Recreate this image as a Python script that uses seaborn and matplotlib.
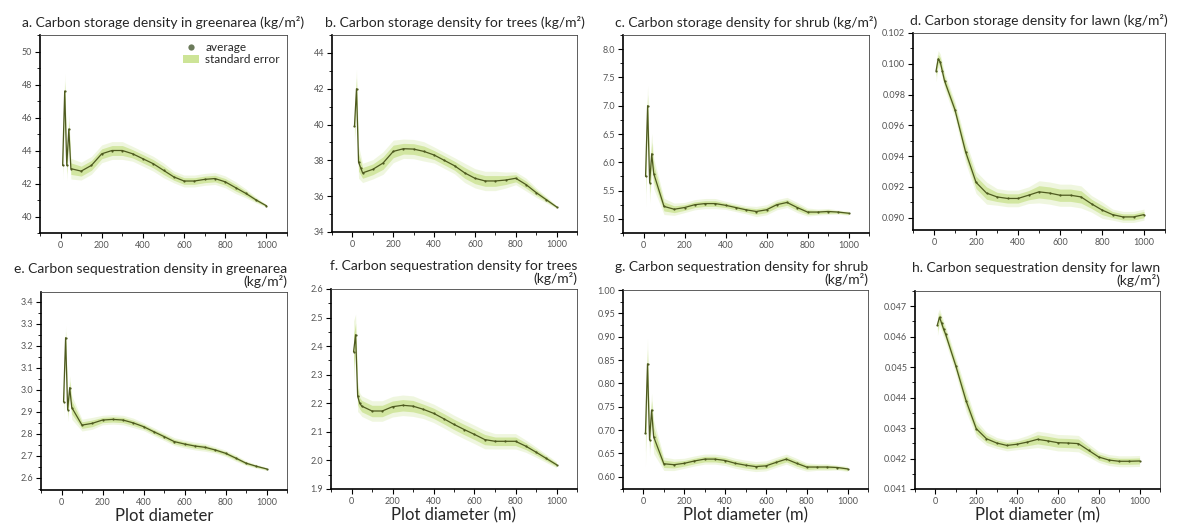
import matplotlib
matplotlib.use("Agg")
import matplotlib.pyplot as plt
import seaborn as sns
import numpy as np
import pandas as pd
from matplotlib.patches import Patch
from matplotlib.lines import Line2D
from matplotlib.ticker import MultipleLocator, FormatStrFormatter

# ---------------- data ----------------
x = [10, 20, 30, 40, 50, 100, 150, 200, 250, 300, 350, 400, 450, 500,
     550, 600, 650, 700, 750, 800, 850, 900, 950, 1000]

a_mean = [43.1, 47.6, 43.1, 45.3, 42.9, 42.75, 43.1, 43.8, 44.0, 44.0, 43.8, 43.5,
          43.2, 42.8, 42.4, 42.15, 42.15, 42.25, 42.3, 42.1, 41.75, 41.4, 41.0, 40.65]
a_se = [0.5, 0.6, 0.5, 0.5, 0.35, 0.3, 0.3, 0.3, 0.3, 0.3, 0.25, 0.25,
        0.25, 0.25, 0.2, 0.2, 0.2, 0.2, 0.2, 0.2, 0.2, 0.15, 0.1, 0.05]

b_mean = [39.9, 42.0, 37.9, 37.6, 37.3, 37.5, 37.85, 38.5, 38.65, 38.63, 38.5, 38.3,
          38.0, 37.7, 37.3, 37.0, 36.85, 36.85, 36.9, 37.0, 36.65, 36.2, 35.8, 35.4]
b_se = [0.6, 0.6, 0.5, 0.4, 0.3, 0.3, 0.35, 0.35, 0.3, 0.3, 0.3, 0.25,
        0.25, 0.25, 0.3, 0.3, 0.3, 0.3, 0.25, 0.2, 0.2, 0.15, 0.1, 0.05]

c_mean = [5.75, 7.0, 5.64, 6.15, 5.8, 5.22, 5.17, 5.2, 5.25, 5.27, 5.27, 5.24,
          5.2, 5.16, 5.13, 5.16, 5.25, 5.29, 5.2, 5.12, 5.12, 5.13, 5.12, 5.1]
c_se = [0.3, 0.2, 0.2, 0.2, 0.15, 0.08, 0.06, 0.05, 0.05, 0.05, 0.05, 0.04,
        0.04, 0.04, 0.05, 0.05, 0.05, 0.05, 0.05, 0.04, 0.03, 0.03, 0.02, 0.02]

d_mean = [0.09955, 0.10032, 0.1001, 0.0995, 0.0989, 0.0970, 0.0943, 0.0923, 0.0916,
          0.09135, 0.09125, 0.09125, 0.09146, 0.09168, 0.0916, 0.09146, 0.09146,
          0.09135, 0.0909, 0.0905, 0.0902, 0.09005, 0.09005, 0.0902]
d_se = [0.0004, 0.0003, 0.0003, 0.0003, 0.0003, 0.0003, 0.0004, 0.0004, 0.0004,
        0.0003, 0.0003, 0.0003, 0.0003, 0.0004, 0.0004, 0.0004, 0.0004, 0.0004,
        0.0003, 0.0003, 0.0002, 0.0002, 0.0002, 0.0002]

e_mean = [2.946, 3.237, 2.91, 3.01, 2.92, 2.84, 2.848, 2.863, 2.866, 2.863, 2.85, 2.833,
          2.81, 2.788, 2.765, 2.754, 2.745, 2.739, 2.727, 2.712, 2.69, 2.667, 2.653, 2.641]
e_se = [0.04, 0.03, 0.03, 0.03, 0.03, 0.015, 0.015, 0.012, 0.012, 0.012, 0.012, 0.01,
        0.01, 0.01, 0.01, 0.01, 0.01, 0.01, 0.008, 0.008, 0.008, 0.006, 0.005, 0.004]

f_mean = [2.38, 2.44, 2.225, 2.2, 2.19, 2.173, 2.173, 2.188, 2.193, 2.19, 2.179, 2.165,
          2.146, 2.126, 2.108, 2.091, 2.073, 2.067, 2.067, 2.067, 2.05, 2.029, 2.007, 1.985]
f_se = [0.06, 0.04, 0.03, 0.02, 0.02, 0.02, 0.02, 0.02, 0.02, 0.02, 0.018, 0.018,
        0.018, 0.018, 0.018, 0.018, 0.018, 0.015, 0.015, 0.015, 0.012, 0.01, 0.008, 0.006]

g_mean = [0.6934, 0.842, 0.679, 0.743, 0.686, 0.628, 0.626, 0.629, 0.634, 0.638, 0.638,
          0.635, 0.629, 0.625, 0.622, 0.6235, 0.631, 0.638, 0.629, 0.621, 0.621, 0.621,
          0.62, 0.617]
g_se = [0.04, 0.03, 0.02, 0.02, 0.02, 0.008, 0.007, 0.006, 0.006, 0.006, 0.006, 0.006,
        0.006, 0.006, 0.006, 0.006, 0.006, 0.006, 0.006, 0.005, 0.004, 0.004, 0.003, 0.003]

h_mean = [0.0464, 0.04664, 0.04645, 0.04625, 0.04608, 0.04504, 0.0439, 0.04298, 0.04265,
          0.04251, 0.04243, 0.04247, 0.04254, 0.04263, 0.04258, 0.04252, 0.04251,
          0.04249, 0.04227, 0.04205, 0.04195, 0.04191, 0.04191, 0.04192]
h_se = [0.0002, 0.00015, 0.00015, 0.00015, 0.00015, 0.00015, 0.0002, 0.00015, 0.00012,
        0.0001, 0.0001, 0.0001, 0.00012, 0.00015, 0.00015, 0.00015, 0.00015, 0.00015,
        0.00012, 0.0001, 0.0001, 0.0001, 0.0001, 0.0001]

titles = [
    "a. Carbon storage density in greenarea (kg/m²)",
    "b. Carbon storage density for trees (kg/m²)",
    "c. Carbon storage density for shrub (kg/m²)",
    "d. Carbon storage density for lawn (kg/m²)",
    "e. Carbon sequestration density in greenarea\n(kg/m²)",
    "f. Carbon sequestration density for trees\n(kg/m²)",
    "g. Carbon sequestration density for shrub\n(kg/m²)",
    "h. Carbon sequestration density for lawn\n(kg/m²)",
]
xlabels = ["", "", "", "", "Plot diameter", "Plot diameter (m)",
           "Plot diameter (m)", "Plot diameter (m)"]
legend_labels = ["average", "standard error"]

# ---------------- style ----------------
sns.set_style("ticks")
plt.rcParams["font.family"] = ["Lato", "DejaVu Sans"]

LINE = "#4e5a1f"
BAND = "#cde497"

W, H = 1184, 523
fig = plt.figure(figsize=(W / 100, H / 100), dpi=100)

# pixel boxes: left, right, top, bottom
boxes = [
    (40, 287, 35, 233), (332, 577, 35, 232), (623, 869, 35, 233), (913, 1165, 33, 230),
    (41, 287, 292, 490), (331, 577, 289, 489), (623, 868, 290, 489), (915, 1160, 291, 489),
]
panels = [
    (a_mean, a_se, (39, 51), 2, 1, "%d"),
    (b_mean, b_se, (34, 45), 2, 1, "%d"),
    (c_mean, c_se, (4.75, 8.25), 0.5, 0.25, "%.1f"),
    (d_mean, d_se, (0.0892, 0.1020), 0.002, 0.001, "%.3f"),
    (e_mean, e_se, (2.545, 3.445), 0.1, 0.05, "%.1f"),
    (f_mean, f_se, (1.9, 2.6), 0.1, 0.05, "%.1f"),
    (g_mean, g_se, (0.574, 1.0), 0.05, 0.025, "%.2f"),
    (h_mean, h_se, (0.041, 0.0475), 0.001, 0.0005, "%.3f"),
]

for i, ((l, r, t, b), (mean, se, ylim, ymaj, ymin, fmt)) in enumerate(zip(boxes, panels)):
    ax = fig.add_axes([l / W, (H - b) / H, (r - l) / W, (b - t) / H])
    df = pd.DataFrame({"x": x, "mean": mean, "se": se})
    # soft outer glow + main standard-error band
    ax.fill_between(df["x"], df["mean"] - 1.8 * df["se"], df["mean"] + 1.8 * df["se"],
                    color=BAND, alpha=0.3, linewidth=0)
    ax.fill_between(df["x"], df["mean"] - df["se"], df["mean"] + df["se"],
                    color=BAND, alpha=0.85, linewidth=0)
    sns.lineplot(data=df, x="x", y="mean", ax=ax, color=LINE, linewidth=0.9,
                 marker="o", markersize=1.6, markeredgewidth=0, legend=False)
    ax.set_xlim(-100, 1100)
    ax.set_ylim(*ylim)
    ax.xaxis.set_major_locator(MultipleLocator(200))
    ax.xaxis.set_minor_locator(MultipleLocator(100))
    ax.yaxis.set_major_locator(MultipleLocator(ymaj))
    ax.yaxis.set_minor_locator(MultipleLocator(ymin))
    ax.yaxis.set_major_formatter(FormatStrFormatter(fmt))
    ax.tick_params(which="major", length=3.5, width=0.8, labelsize=6.5, colors="black",
                   labelcolor="#555555", pad=2, direction="out")
    ax.tick_params(which="minor", length=2, width=0.6, colors="black")
    for s in ["left", "bottom"]:
        ax.spines[s].set_linewidth(1.2)
        ax.spines[s].set_color("black")
    for s in ["top", "right"]:
        ax.spines[s].set_linewidth(0.6)
        ax.spines[s].set_color("#444444")
    ax.set_ylabel("")
    ax.set_xlabel(xlabels[i], fontsize=12, labelpad=1)
    if i < 4:
        ax.set_title(titles[i], fontsize=10, pad=6)
    else:
        ax.set_title(titles[i], fontsize=10, loc="right", pad=4, linespacing=1.0)
    if i == 0:
        handles = [
            Line2D([0], [0], marker="o", color="none", markerfacecolor="#6b7a5a",
                   markeredgecolor="none", markersize=4.5),
            Patch(facecolor=BAND, edgecolor="none"),
        ]
        ax.legend(handles, legend_labels, loc="upper right", frameon=False,
                  fontsize=8.5, handlelength=1.4, handletextpad=0.5, labelspacing=0.1,
                  borderaxespad=0.2, bbox_to_anchor=(1.0, 1.0))

fig.savefig("out.png", dpi=100)
